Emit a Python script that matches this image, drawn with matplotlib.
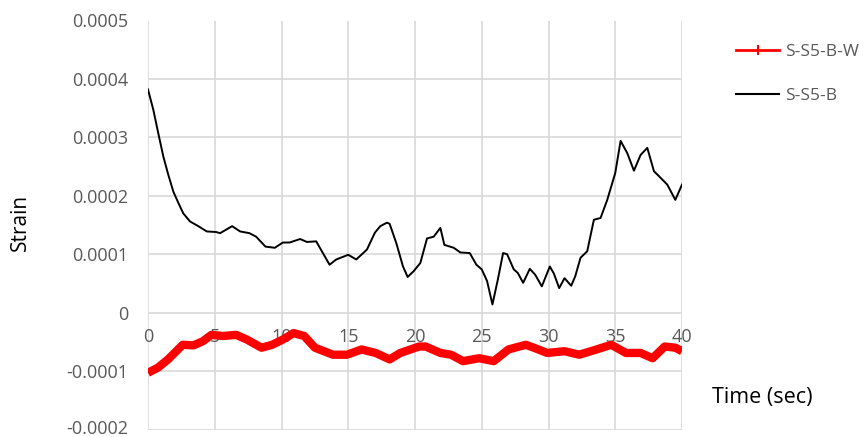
import matplotlib
matplotlib.use("Agg")
import matplotlib.pyplot as plt
from matplotlib.lines import Line2D
from matplotlib.transforms import ScaledTranslation

plt.rcParams['font.family'] = ['Open Sans', 'DejaVu Sans']

# S-S5-B (black)
t_b = [0, 0.4, 0.77, 1.15, 1.52, 1.9, 2.27, 2.64, 3.15, 3.77, 4.4, 5.1, 5.4,
       6.3, 6.9, 7.6, 8.1, 8.8, 9.5,
       10.1, 10.6, 11.4, 11.9, 12.6, 13.1, 13.6, 14.1, 15.0, 15.6, 16.4, 17.0,
       17.4, 17.9, 18.1, 18.6, 19.1, 19.45, 19.9, 20.4, 20.9, 21.4, 21.9, 22.2,
       22.9, 23.4, 24.1, 24.6, 25.0, 25.4, 25.8, 26.2, 26.6, 26.9, 27.4, 27.7,
       28.1, 28.6, 29.0, 29.5, 30.1, 30.4, 30.8, 31.2, 31.7, 32.0, 32.4, 32.9,
       33.4, 33.9, 34.4, 35.0, 35.4, 35.9, 36.4, 36.9, 37.4, 37.9, 38.3, 38.9,
       39.5, 40.0]
s_b = [0.000382, 0.000347, 0.000307, 0.000267, 0.000236, 0.000207, 0.000188,
       0.000170, 0.000156, 0.000148, 0.000139, 0.000138, 0.000136,
       0.000148, 0.000139, 0.000136, 0.000130, 0.000113,
       0.000111, 0.000120, 0.000120, 0.000126, 0.000121, 0.000122, 0.000102,
       0.000082, 0.000091, 0.000099, 0.000091, 0.000108, 0.000137, 0.000148,
       0.000154, 0.000152, 0.000119, 0.000079, 0.000061, 0.000071, 0.000085,
       0.000127, 0.000130, 0.000145, 0.000116, 0.000111, 0.000103, 0.000102,
       0.000082, 0.000074, 0.000054, 0.000014, 0.000056, 0.000102, 0.000100,
       0.000074, 0.000068, 0.000051, 0.000075, 0.000065, 0.000045, 0.000079,
       0.000067, 0.000042, 0.000059, 0.000046, 0.000062, 0.000094, 0.000105,
       0.000159, 0.000162, 0.000193, 0.000239, 0.000294, 0.000273, 0.000243,
       0.000270, 0.000282, 0.000242, 0.000233, 0.000219, 0.000193, 0.000219]

# S-S5-B-W (red)
t_w = [0, 0.75, 1.5, 2.6, 3.4, 4.1, 4.75, 5.6, 6.6, 7.4, 8.5, 9.3, 10.1, 10.9,
       11.7, 12.5, 13.85, 14.9, 16.0, 17.05, 18.1, 18.9, 20.3, 20.8, 21.9, 22.7,
       23.6, 24.8, 25.9, 27.0, 28.3, 28.9, 29.9, 31.2, 32.3, 33.6, 34.7, 35.8,
       36.9, 37.8, 38.7, 39.5, 40.0]
s_w = [-0.000103, -0.000094, -0.000080, -0.000055, -0.000056, -0.000049,
       -0.000038, -0.000040, -0.000038, -0.000046, -0.000060, -0.000055,
       -0.000046, -0.000035, -0.000040, -0.000060, -0.000072, -0.000072,
       -0.000063, -0.000069, -0.000080, -0.000069, -0.000058, -0.000058,
       -0.000069, -0.000072, -0.000083, -0.000078, -0.000083, -0.000063,
       -0.000055, -0.000060, -0.000069, -0.000066, -0.000072, -0.000063,
       -0.000055, -0.000069, -0.000069, -0.000078, -0.000058, -0.000060,
       -0.000066]

x_ticks = [0, 5, 10, 15, 20, 25, 30, 35, 40]
y_ticks = [-0.0002, -0.0001, 0, 0.0001, 0.0002, 0.0003, 0.0004, 0.0005]
y_labels = ['-0.0002', '-0.0001', '0', '0.0001', '0.0002', '0.0003', '0.0004', '0.0005']

fig = plt.figure(figsize=(8.67, 4.37), dpi=100)
ax = fig.add_axes([148/867, 1-429.5/437, (682-148)/867, (429.5-20.5)/437])

ax.plot(t_w, s_w, color='#ff0000', lw=6, solid_joinstyle='round',
        solid_capstyle='butt', zorder=3)
ax.plot(t_b, s_b, color='black', lw=1.4, zorder=4)

ax.set_xlim(0, 40)
ax.set_ylim(-0.0002, 0.0005)
ax.set_xticks(x_ticks)
ax.set_xticklabels([str(v) for v in x_ticks])
ax.set_yticks(y_ticks)
ax.set_yticklabels(y_labels)
ax.grid(True, color='#d9d9d9', lw=1.2)
ax.set_axisbelow(True)
for s in ax.spines.values():
    s.set_visible(False)
ax.spines['bottom'].set_position(('data', 0))
ax.tick_params(axis='x', length=0, pad=11, labelsize=13, labelcolor='#595959')
ax.tick_params(axis='y', length=0, pad=14, labelsize=13, labelcolor='#595959')

# nudge the lowest y label up slightly so it stays inside the canvas
low = ax.yaxis.get_major_ticks()[0].label1
low.set_transform(low.get_transform() + ScaledTranslation(0, 3/100, fig.dpi_scale_trans))

fig.text(20/867, 1-222/437, 'Strain', rotation=90, ha='center', va='center',
         fontsize=15, color='black')
fig.text(712/867, 1-398/437, 'Time (sec)', ha='left', va='center',
         fontsize=15.5, color='black')

handles = [Line2D([], [], color='#ff0000', lw=2, marker='|', markersize=7, markeredgewidth=1.5),
           Line2D([], [], color='black', lw=1.5)]
fig.legend(handles, ['S-S5-B-W', 'S-S5-B'], loc='upper left',
           bbox_to_anchor=(736/867, 1-44/437), frameon=False, fontsize=12.5,
           labelcolor='#595959', handlelength=2.5, handletextpad=0.3,
           labelspacing=1.6, borderpad=0, borderaxespad=0)

fig.savefig('out.png', dpi=100)
